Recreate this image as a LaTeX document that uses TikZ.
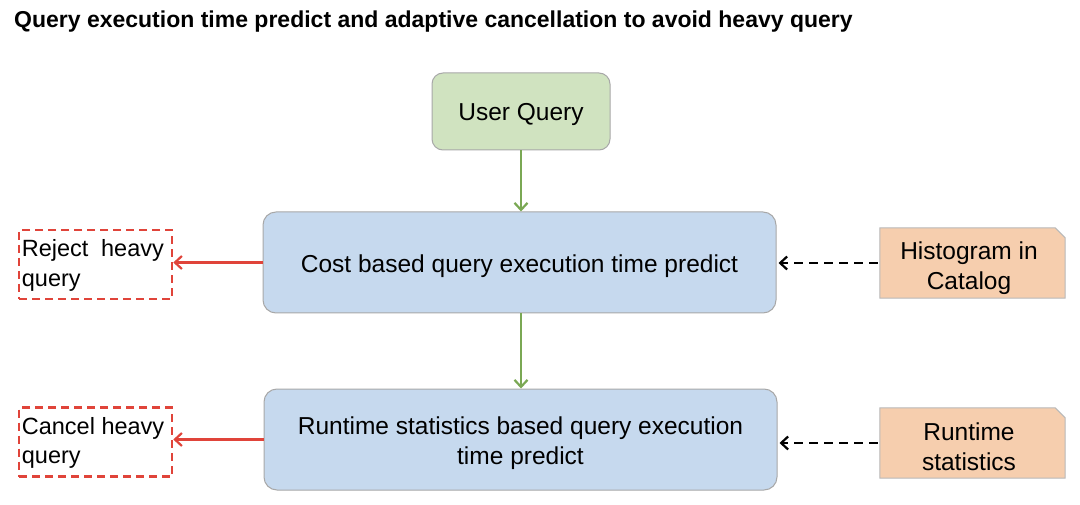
\documentclass[tikz,border=0pt]{standalone}
\usepackage{fontspec}
\setmainfont{Liberation Sans}
\usetikzlibrary{arrows.meta}
\definecolor{gfill}{HTML}{D0E3C0}
\definecolor{bfill}{HTML}{C6D9EE}
\definecolor{pfill}{HTML}{F6CEAE}
\definecolor{bord}{HTML}{A8A8A8}
\definecolor{garr}{HTML}{7AA854}
\definecolor{rarr}{HTML}{E0443A}
\tikzset{
  x=1pt,y=-1pt,
  body/.style={font=\fontsize{24.5}{29.5}\selectfont, text=black, align=center, inner sep=0pt},
  small/.style={font=\fontsize{23.5}{29.5}\selectfont},
  uqbox/.style={draw=bord, line width=1pt, fill=gfill, rounded corners=11pt, minimum width=178pt, minimum height=77pt},
  bluebox/.style={draw=bord, line width=1pt, fill=bfill, rounded corners=13pt, minimum width=513pt, minimum height=101pt},
  redbox/.style={draw=rarr, line width=2.6pt, dash pattern=on 8pt off 5pt, minimum width=153pt, minimum height=69pt, inner sep=0pt},
  peachnode/.style={minimum width=185pt, minimum height=70pt, inner sep=0pt},
  peachshape/.style={draw=bord!80, line width=1pt, fill=pfill},
  tip/.style={-{Straight Barb[length=7pt,width=13pt,line width=2.2pt]}},
  garrow/.style={tip, draw=garr, line width=2.4pt},
  rarrow/.style={tip, draw=rarr, line width=2.6pt},
  karrow/.style={tip, draw=black, line width=2.2pt, dash pattern=on 9pt off 6pt},
}
\begin{document}
\begin{tikzpicture}
\useasboundingbox[fill=white] (0,0) rectangle (1080,505);
\node[anchor=base west, font=\fontsize{23}{26}\selectfont\bfseries, inner sep=0pt] (title) at (14,28) {Query execution time predict and adaptive cancellation to avoid heavy query};

\node[uqbox] (uq) at (521,111.5) {};
\node[body] (uqt) at ([yshift=-3pt]uq.center) {User Query};
\node[bluebox] (cost) at (519.5,262.5) {};
\node[body] (costt) at ([yshift=-3.5pt]cost.center) {Cost based query execution time predict};
\node[bluebox] (rt) at (520.5,439.5) {};
\node[body] (rtt) at ([yshift=-3.5pt]rt.center) {Runtime statistics based query execution\\time predict};

\node[redbox] (rej) at (95.5,264.5) {};
\node[body, small, anchor=west] (rejt) at ([xshift=4pt,yshift=-1pt]rej.west) {\hbox to 142pt{Reject\hfill heavy}\\\hbox to 142pt{query\hfill}};
\node[redbox] (can) at (95.5,442) {};
\node[body, small, anchor=west] (cant) at ([xshift=4pt,yshift=-1pt]can.west) {\hbox to 142pt{Cancel heavy\hss}\\\hbox to 142pt{query\hfill}};

\node[peachnode] (hist) at (972.5,263) {};
\node[peachnode] (rts) at (972.5,443) {};
\foreach \n in {hist,rts}{
  \path[peachshape] (\n.north west) -- ([xshift=-10pt]\n.north east) -- ([yshift=-10pt]\n.north east) -- (\n.south east) -- (\n.south west) -- cycle;
}
\node[body] (histt) at ([xshift=-3.5pt,yshift=-5pt]hist.center) {Histogram in\\Catalog};
\node[body] (rtst) at ([xshift=-3.5pt,yshift=-3.5pt]rts.center) {Runtime\\statistics};

\draw[garrow] (uq.south) -- (uq.south |- cost.north);
\draw[garrow] (cost.south -| uq.south) -- (rt.north -| uq.south);
\draw[rarrow] (cost.west) -- (cost.west -| rej.east);
\draw[rarrow] (rt.west) -- (rt.west -| can.east);
\draw[karrow, shorten <=2pt, shorten >=2pt] (hist.west) -- (hist.west -| cost.east);
\draw[karrow, shorten <=2pt, shorten >=2pt] (rts.west) -- (rts.west -| rt.east);
\end{tikzpicture}
\end{document}
